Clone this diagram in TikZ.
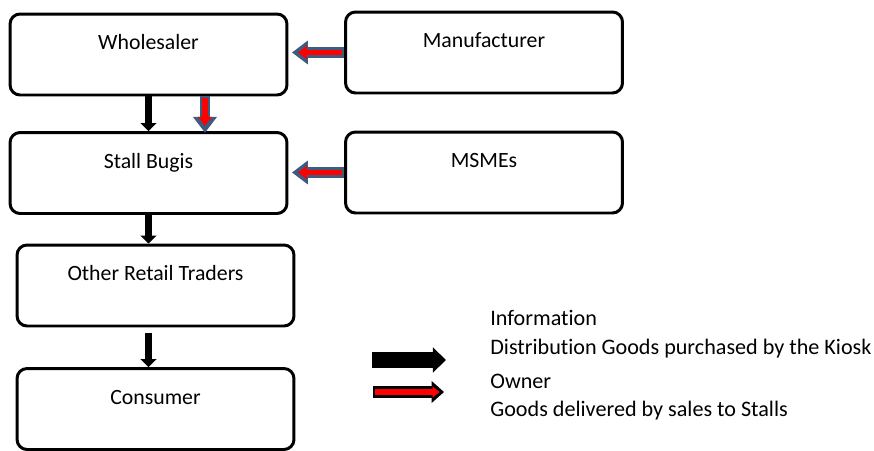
\documentclass[tikz,border=0pt]{standalone}
\usepackage{fontspec}
\setmainfont{Carlito}[Ligatures=NoCommon]
\usetikzlibrary{arrows.meta,positioning}
\definecolor{arrowedge}{HTML}{3F5B7F}
\definecolor{arrowred}{HTML}{FF0000}
\tikzset{
  box/.style={draw, line width=1.7pt, rounded corners=0.2cm,
              minimum width=5.54cm, minimum height=1.62cm,
              text height=8pt, text depth=13.4pt, font=\fontsize{12.4}{14}\selectfont},
  flowarrow/.style={line width=3.6pt, -{Triangle[length=4.5pt, width=9pt]}},
  outerarrow/.style={line width=6pt, arrowedge, -{Triangle[length=9pt, width=13pt]}},
  innerarrow/.style={line width=3pt, arrowred, -{Triangle[length=5pt, width=7.5pt]}},
  legendtext/.style={anchor=west, inner sep=0pt, font=\fontsize{12.6}{14}\selectfont},
}
\begin{document}
\begin{tikzpicture}[x=0.02cm, y=-0.02cm]
    \useasboundingbox (0,0) rectangle (874,450);
    % boxes
    \node[box] (whole) at (148.5, 54.5) {Wholesaler};
    \node[box] (manu) at (484, 52.5) {Manufacturer};
    \node[box] (stall) at (148.5, 173) {Stall Bugis};
    \node[box] (msme) at (484, 172.5) {MSMEs};
    \node[box] (other) at (155.5, 285.5) {Other Retail Traders};
    \node[box] (cons) at (155.5, 409) {Consumer};
    % information flow
    \draw[flowarrow] (whole.south) -- (stall.north);
    \draw[flowarrow] (stall.south) -- (stall.south |- other.north);
    \draw[flowarrow] ([yshift=-3pt]other.south -| stall.south) -- (stall.south |- cons.north);
    % goods flow
    \draw[outerarrow] ([xshift=1.13cm]whole.south) -- ([xshift=1.13cm, yshift=-1pt]stall.north);
    \draw[innerarrow] ([xshift=1.13cm, yshift=-1pt]whole.south) -- ([xshift=1.13cm, yshift=3pt]stall.north);
    \draw[outerarrow] (manu.west) -- ([xshift=2pt]manu.west -| whole.east);
    \draw[innerarrow] ([xshift=-1pt]manu.west) -- ([xshift=5.5pt]manu.west -| whole.east);
    \draw[outerarrow] (msme.west) -- ([xshift=2pt]msme.west -| stall.east);
    \draw[innerarrow] ([xshift=-1pt]msme.west) -- ([xshift=5.5pt]msme.west -| stall.east);
    % legend
    \coordinate (k1a) at (372, 360);
    \coordinate (k1b) at (446, 360);
    \coordinate (k2a) at (373, 392);
    \coordinate (k2b) at (444, 392);
    \draw[line width=9pt, -{Triangle[length=7.5pt, width=14pt]}] (k1a) -- (k1b);
    \draw[line width=7pt, -{Triangle[length=7pt, width=12pt]}] (k2a) -- (k2b);
    \draw[line width=3pt, arrowred, -{Triangle[length=4pt, width=6pt]}] ([xshift=1pt]k2a) -- ([xshift=-2.5pt]k2b);
    \node[legendtext] (t1) at (490, 318) {Information};
    \node[legendtext] (t2) at (490, 349) {Distribution Goods purchased by the Kiosk};
    \node[legendtext] (t3) at (490, 381) {Owner};
    \node[legendtext] (t4) at (490, 411) {Goods delivered by sales to Stalls};
\end{tikzpicture}
\end{document}
